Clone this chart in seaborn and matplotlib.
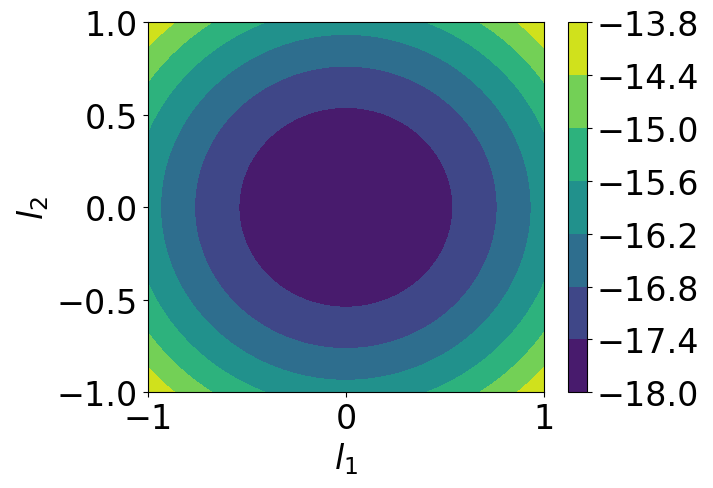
import numpy as np
import matplotlib
matplotlib.use("Agg")
import matplotlib.pyplot as plt
import seaborn as sns

sns.set_style("ticks", {"axes.edgecolor": "black", "xtick.color": "black",
                        "ytick.color": "black", "text.color": "black",
                        "axes.labelcolor": "black"})
plt.rcParams['font.family'] = ['DejaVu Sans']

# grid over the two parameters
l1 = np.linspace(-1, 1, 301)
l2 = np.linspace(-1, 1, 301)
z_centre = -18.0      # value at (0, 0)
curvature = 2.06      # read from the ring radii
levels = [-18.0, -17.4, -16.8, -16.2, -15.6, -15.0, -14.4, -13.8]

L1, L2 = np.meshgrid(l1, l2)
Z = z_centre + curvature * (L1**2 + L2**2)

fig = plt.figure(figsize=(7.13, 4.89), dpi=100)
ax = fig.add_axes([0.2072, 0.1957, 0.5558, 0.7566])
cax = fig.add_axes([0.7966, 0.1957, 0.0266, 0.7566])

cmap = sns.color_palette("viridis", as_cmap=True)
cs = ax.contourf(L1, L2, Z, levels=levels, cmap=cmap)
cb = fig.colorbar(cs, cax=cax, ticks=levels)
cb.ax.tick_params(labelsize=24)
cb.outline.set_edgecolor("black")

ax.set_xlim(-1, 1)
ax.set_ylim(-1, 1)
ax.set_xticks([-1, 0, 1])
ax.set_yticks([-1.0, -0.5, 0.0, 0.5, 1.0])
ax.tick_params(labelsize=24)
ax.set_xlabel(r"$l_1$", fontsize=24)
ax.set_ylabel(r"$l_2$", fontsize=24)

fig.savefig("out.png", dpi=100)
